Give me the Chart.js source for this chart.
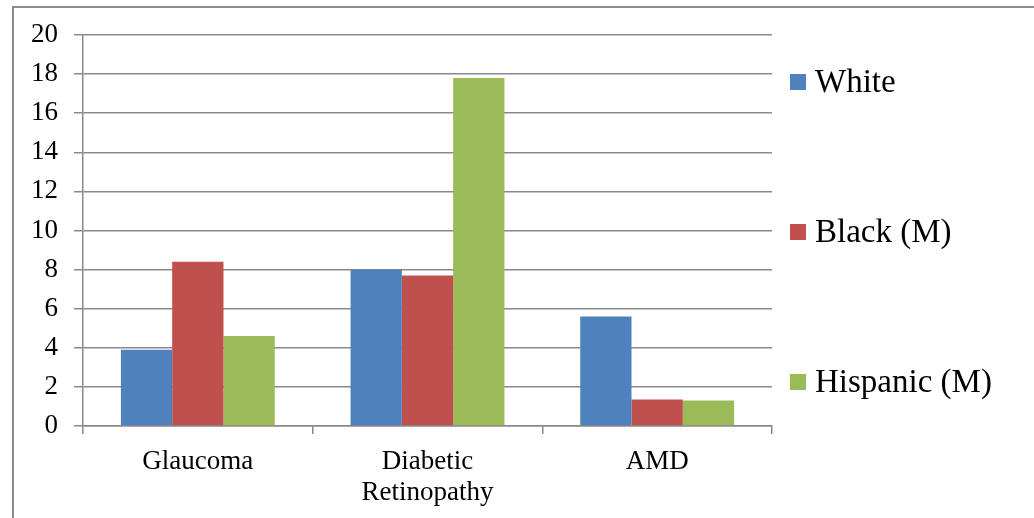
<!DOCTYPE html>
<html>
<head>
<meta charset="utf-8">
<script src="https://cdn.jsdelivr.net/npm/chart.js@4"></script>
<style>
  html, body { margin: 0; padding: 0; background: #fff; }
  #wrap { position: relative; width: 1034px; height: 518px; overflow: hidden; }
  #frame { position: absolute; left: 12px; top: 6px; width: 1040px; height: 540px; border: 2px solid #8c8c8c; box-sizing: border-box; pointer-events: none; }
  canvas { position: absolute; left: 0; top: 0; }
</style>
</head>
<body>
<div id="wrap">
  <div id="frame"></div>
  <canvas id="c" width="1034" height="518"></canvas>
</div>
<script>
const categories = ["Glaucoma", ["Diabetic", "Retinopathy"], "AMD"];
const seriesNames = ["White", "Black (M)", "Hispanic (M)"];
const whiteValues = [3.9, 8.0, 5.6];
const blackValues = [8.4, 7.7, 1.35];
const hispanicValues = [4.6, 17.8, 1.3];
const yTicks = [0, 2, 4, 6, 8, 10, 12, 14, 16, 18, 20];
const colors = ["#4F81BD", "#C0504D", "#9BBB59"];

const FONT = "'Liberation Serif', 'DejaVu Serif', serif";
const GRID = "#898989";

const sideLegend = {
  id: "sideLegend",
  afterDraw(chart) {
    const ctx = chart.ctx;
    const area = chart.chartArea;
    const ds = chart.data.datasets;
    const spacing = 150;
    const midY = (area.top + area.bottom) / 2 + 1.5;
    ctx.save();
    ctx.font = "33px " + FONT;
    ctx.textBaseline = "middle";
    ctx.textAlign = "left";
    ds.forEach((d, i) => {
      const cy = midY + (i - (ds.length - 1) / 2) * spacing;
      const x = area.right + 18;
      ctx.fillStyle = d.backgroundColor;
      ctx.fillRect(x, cy - 8, 16, 16);
      ctx.fillStyle = "#000";
      ctx.fillText(d.label, x + 25, cy + 1);
    });
    ctx.restore();
  }
};

new Chart(document.getElementById("c"), {
  type: "bar",
  data: {
    labels: categories,
    datasets: [
      { label: seriesNames[0], data: whiteValues, backgroundColor: colors[0] },
      { label: seriesNames[1], data: blackValues, backgroundColor: colors[1] },
      { label: seriesNames[2], data: hispanicValues, backgroundColor: colors[2] }
    ]
  },
  options: {
    responsive: false,
    animation: false,
    devicePixelRatio: 1,
    layout: { padding: { left: 0, right: 262, top: 35, bottom: 0 } },
    datasets: { bar: { categoryPercentage: 0.67, barPercentage: 1.0, borderWidth: 0 } },
    plugins: { legend: { display: false }, tooltip: { enabled: false } },
    scales: {
      x: {
        grid: { display: true, drawOnChartArea: false, drawTicks: true, tickLength: 8, color: GRID, lineWidth: 1.5 },
        border: { display: true, color: GRID, width: 1.5 },
        ticks: { color: "#000", font: { family: FONT, size: 27, lineHeight: 1.17 }, padding: 12, maxRotation: 0, autoSkip: false },
        afterFit(s) { s.height = 92; }
      },
      y: {
        min: 0, max: 20,
        afterBuildTicks(s) { s.ticks = yTicks.map(v => ({ value: v })); },
        grid: { color: GRID, lineWidth: 1.5, drawTicks: true, tickLength: 9 },
        border: { display: true, color: GRID, width: 1.5 },
        ticks: { color: "#000", font: { family: FONT, size: 27 }, padding: 16, stepSize: 2 },
        afterFit(s) { s.width = 83; }
      }
    }
  },
  plugins: [sideLegend]
});
</script>
</body>
</html>
